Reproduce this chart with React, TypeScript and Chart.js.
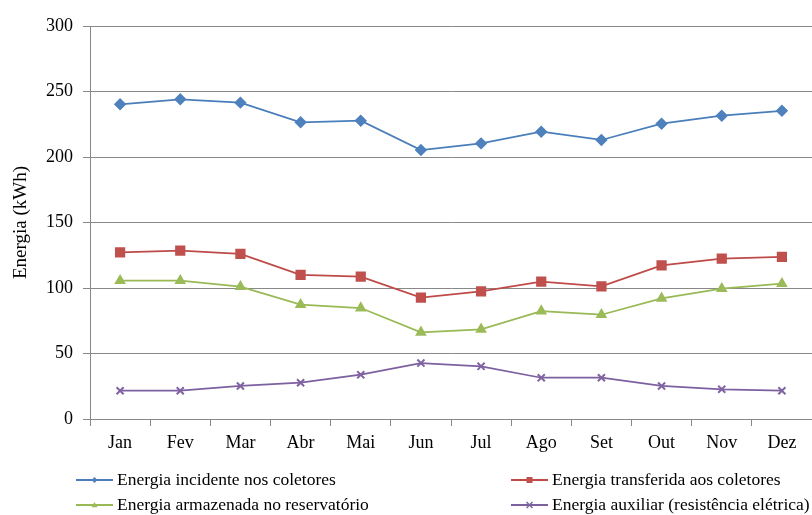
import React, { useEffect, useRef } from 'react';
import { Chart, registerables } from 'chart.js';

Chart.register(...registerables);

const months = ['Jan', 'Fev', 'Mar', 'Abr', 'Mai', 'Jun', 'Jul', 'Ago', 'Set', 'Out', 'Nov', 'Dez'];
const incidente = [240.2, 244, 241.5, 226.5, 227.7, 205.3, 210.4, 219.3, 213, 225.4, 231.5, 235.3];
const transferida = [127.2, 128.5, 126, 110, 108.6, 92.6, 97.5, 104.8, 101.3, 117.3, 122.4, 123.7];
const armazenada = [105.6, 105.6, 101, 87.3, 84.7, 66.2, 68.5, 82.4, 79.6, 92.1, 99.5, 103.3];
const auxiliar = [21.6, 21.6, 25.2, 27.7, 33.8, 42.7, 40.2, 31.5, 31.5, 25.2, 22.7, 21.6];
const seriesNames = [
  'Energia incidente nos coletores',
  'Energia transferida aos coletores',
  'Energia armazenada no reservatório',
  'Energia auxiliar (resistência elétrica)',
];
const yMin = 0;
const yMax = 300;
const yStep = 50;

const FONT = "'Liberation Serif', 'Times New Roman', serif";
const GRID = '#888888';

function drawMarker(ctx: CanvasRenderingContext2D, style: string, x: number, y: number, r: number, color: string) {
  ctx.save();
  ctx.fillStyle = color;
  ctx.strokeStyle = color;
  ctx.beginPath();
  if (style === 'rectRot') {
    ctx.moveTo(x, y - r);
    ctx.lineTo(x + r, y);
    ctx.lineTo(x, y + r);
    ctx.lineTo(x - r, y);
    ctx.closePath();
    ctx.fill();
  } else if (style === 'rect') {
    ctx.fillRect(x - r, y - r, 2 * r, 2 * r);
  } else if (style === 'triangle') {
    ctx.moveTo(x, y - r);
    ctx.lineTo(x + r, y + r * 0.75);
    ctx.lineTo(x - r, y + r * 0.75);
    ctx.closePath();
    ctx.fill();
  } else {
    ctx.lineWidth = 1.5;
    ctx.moveTo(x - r, y - r);
    ctx.lineTo(x + r, y + r);
    ctx.moveTo(x + r, y - r);
    ctx.lineTo(x - r, y + r);
    ctx.stroke();
  }
  ctx.restore();
}

const legendPlugin = {
  id: 'customLegend',
  afterDraw(chart: any) {
    const ctx: CanvasRenderingContext2D = chart.ctx;
    const cols = [76, 511];
    const rows = [480, 505];
    chart.data.datasets.forEach((ds: any, i: number) => {
      const x = cols[i % 2];
      const y = rows[Math.floor(i / 2)];
      ctx.save();
      ctx.strokeStyle = ds.borderColor;
      ctx.lineWidth = 2;
      ctx.beginPath();
      ctx.moveTo(x, y);
      ctx.lineTo(x + 37, y);
      ctx.stroke();
      drawMarker(ctx, ds.pointStyle, x + 18.5, y, 3, ds.pointBackgroundColor);
      ctx.fillStyle = '#000';
      ctx.font = `17.5px ${FONT}`;
      ctx.textBaseline = 'middle';
      ctx.textAlign = 'left';
      ctx.fillText(ds.label, x + 41, y);
      ctx.restore();
    });
  },
};

export default function App() {
  const ref = useRef<HTMLCanvasElement>(null);
  useEffect(() => {
    if (!ref.current) return;
    const chart = new Chart(ref.current, {
      type: 'line',
      data: {
        labels: months,
        datasets: [
          {
            label: seriesNames[0],
            data: incidente,
            borderColor: '#4A7EBB',
            pointBackgroundColor: '#4F81BD',
            pointBorderColor: '#4F81BD',
            pointStyle: 'rectRot',
            pointRadius: 5,
            borderWidth: 1.75,
          },
          {
            label: seriesNames[1],
            data: transferida,
            borderColor: '#BE4B48',
            pointBackgroundColor: '#C0504D',
            pointBorderColor: '#C0504D',
            pointStyle: 'rect',
            pointRadius: 6,
            borderWidth: 1.75,
          },
          {
            label: seriesNames[2],
            data: armazenada,
            borderColor: '#98B954',
            pointBackgroundColor: '#9BBB59',
            pointBorderColor: '#9BBB59',
            pointStyle: 'triangle',
            pointRadius: 5,
            borderWidth: 1.75,
          },
          {
            label: seriesNames[3],
            data: auxiliar,
            borderColor: '#7D60A0',
            pointBackgroundColor: '#8064A2',
            pointBorderColor: '#8064A2',
            pointStyle: 'crossRot',
            pointRadius: 5,
            pointBorderWidth: 2,
            borderWidth: 1.75,
          },
        ],
      },
      options: {
        animation: false,
        responsive: false,
        layout: { autoPadding: false, padding: { top: 26, left: 0, right: 0, bottom: 0 } },
        plugins: { legend: { display: false }, tooltip: { enabled: false } },
        scales: {
          x: {
            offset: true,
            grid: {
              offset: true,
              drawOnChartArea: false,
              drawTicks: true,
              tickLength: 7,
              color: GRID,
            },
            border: { color: GRID, width: 1 },
            ticks: { font: { family: FONT, size: 18 }, color: '#000', padding: 6 },
            afterFit: (s: any) => {
              s.height = 96;
              s.paddingLeft = 0;
              s.paddingRight = 0;
            },
          },
          y: {
            min: yMin,
            max: yMax,
            ticks: { stepSize: yStep, font: { family: FONT, size: 18 }, color: '#000', padding: 10 },
            grid: { color: GRID, tickLength: 7, lineWidth: 1 },
            border: { color: GRID, width: 1 },
            title: {
              display: true,
              text: 'Energia (kWh)',
              font: { family: FONT, size: 19 },
              color: '#000',
              padding: { top: 10, bottom: 0 },
            },
            afterFit: (s: any) => {
              s.width = 90;
            },
          },
        },
      },
      plugins: [legendPlugin],
    });
    return () => chart.destroy();
  }, []);
  return (
    <div style={{ position: 'fixed', left: 0, top: 0, width: 812, height: 515, background: '#fff' }}>
      <canvas ref={ref} width={812} height={515} />
    </div>
  );
}
